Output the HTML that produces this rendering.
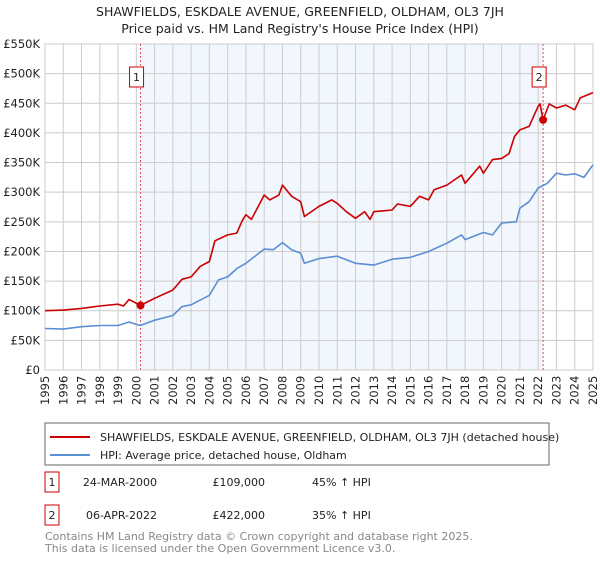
<!DOCTYPE html>
<html><head><meta charset="utf-8"><style>
body{margin:0;background:#fff;font-family:"Liberation Sans","DejaVu Sans",sans-serif;}
svg text{font-family:"DejaVu Sans","Liberation Sans",sans-serif;}
</style></head><body>
<svg id="c" width="600" height="560" xmlns="http://www.w3.org/2000/svg">
<text x="300" y="16" text-anchor="middle" font-size="12.5" fill="#222">SHAWFIELDS, ESKDALE AVENUE, GREENFIELD, OLDHAM, OL3 7JH</text>
<text x="300" y="33" text-anchor="middle" font-size="12.5" fill="#222">Price paid vs. HM Land Registry's House Price Index (HPI)</text>
<g id="plot"></g>
<g>
<rect x="45" y="423" width="504" height="42" fill="#fff" stroke="#666"/>
<line x1="50" y1="437" x2="90" y2="437" stroke="#cc0000" stroke-width="2"/>
<text x="100" y="441" font-size="11" fill="#222">SHAWFIELDS, ESKDALE AVENUE, GREENFIELD, OLDHAM, OL3 7JH (detached house)</text>
<line x1="50" y1="455" x2="90" y2="455" stroke="#5b8fd4" stroke-width="2"/>
<text x="100" y="459" font-size="11" fill="#222">HPI: Average price, detached house, Oldham</text>
</g>
<g font-size="11" fill="#222">
<rect x="45" y="472" width="14" height="20" fill="#fff" stroke="#cc0000"/>
<text x="52" y="486" text-anchor="middle">1</text>
<text x="157" y="486" text-anchor="end">24-MAR-2000</text>
<text x="265" y="486" text-anchor="end">£109,000</text>
<text x="312" y="486">45% ↑ HPI</text>
<rect x="45" y="505" width="14" height="20" fill="#fff" stroke="#cc0000"/>
<text x="52" y="519" text-anchor="middle">2</text>
<text x="157" y="519" text-anchor="end">06-APR-2022</text>
<text x="265" y="519" text-anchor="end">£422,000</text>
<text x="312" y="519">35% ↑ HPI</text>
</g>
<text x="45" y="540" font-size="11" fill="#888">Contains HM Land Registry data © Crown copyright and database right 2025.</text>
<text x="45" y="552" font-size="11" fill="#888">This data is licensed under the Open Government Licence v3.0.</text>
</svg>
<script>
const yTicks=[0,50,100,150,200,250,300,350,400,450,500,550];
const yTickLabels=["£0","£50K","£100K","£150K","£200K","£250K","£300K","£350K","£400K","£450K","£500K","£550K"];
const years=[1995,1996,1997,1998,1999,2000,2001,2002,2003,2004,2005,2006,2007,2008,2009,2010,2011,2012,2013,2014,2015,2016,2017,2018,2019,2020,2021,2022,2023,2024,2025];
const hpiT=[1995,1996,1997,1998,1999,1999.6,2000.2,2001,2002,2002.5,2003,2004,2004.5,2005,2005.5,2006,2007,2007.5,2008,2008.5,2009,2009.2,2010,2011,2011.5,2012,2013,2014,2015,2016,2017,2017.8,2018,2019,2019.5,2020,2020.8,2021,2021.5,2022,2022.5,2023,2023.5,2024,2024.5,2025];
const hpiV=[70,69,73,75,75,81,75,84,92,107,110,126,152,157,171,180,204,203,215,203,197,180,188,192,186,180,177,187,190,200,214,228,220,232,228,248,250,273,284,307,315,332,329,331,325,346];
const priceT=[1995,1996,1997,1998,1999,1999.3,1999.6,2000.23,2001,2002,2002.5,2003,2003.5,2004,2004.3,2005,2005.5,2005.8,2006,2006.3,2007,2007.3,2007.8,2008,2008.5,2009,2009.2,2010,2010.7,2011,2011.5,2012,2012.5,2012.8,2013,2014,2014.3,2015,2015.5,2016,2016.3,2017,2017.8,2018,2018.8,2019,2019.5,2020,2020.4,2020.7,2021,2021.5,2022,2022.1,2022.27,2022.6,2023,2023.5,2024,2024.3,2025];
const priceV=[100,101,104,108,111,108,119,109,121,135,153,157,175,183,218,228,231,252,262,254,295,287,295,312,293,284,259,276,287,281,267,256,267,254,267,270,280,276,293,287,304,312,329,315,344,332,355,357,365,394,405,411,445,449,422,449,442,447,439,459,468];
const saleT=[2000.23,2022.27];
const saleV=[109,422];
const saleLabels=["1","2"];
const NS="http://www.w3.org/2000/svg";
const X0=45,X1=593,Y0=370,Y1=44;
const x=t=>X0+(t-1995)/30*(X1-X0);
const y=v=>Y0-v/550*(Y0-Y1);
const g=document.getElementById('plot');
function mk(tag,attrs,parent){const e=document.createElementNS(NS,tag);for(const k in attrs)e.setAttribute(k,attrs[k]);(parent||g).appendChild(e);return e;}
let r=mk('rect',{x:x(saleT[0]),y:Y1,width:x(saleT[1])-x(saleT[0]),height:Y0-Y1,fill:'#f2f6fd'});


yTicks.forEach((v,i)=>{
 let l=mk('line',{x1:X0,x2:X1,y1:y(v),y2:y(v),stroke:'#cccccc'});
 
 
 let t=mk('text',{x:X0-5,y:y(v)+4,'text-anchor':'end','font-size':'11.5',fill:'#222'});
 t.textContent=yTickLabels[i];
 
 
});
years.forEach(yr=>{
 let l=mk('line',{x1:x(yr),x2:x(yr),y1:Y1,y2:Y0,stroke:'#cccccc'});
 
 
 let t=mk('text',{transform:`translate(${x(yr)+4},${Y0+35}) rotate(-90)`,'font-size':'11.5',fill:'#222'});
 t.textContent=yr;
 
 
});
let bd=mk('rect',{x:X0,y:Y1,width:X1-X0,height:Y0-Y1,fill:'none',stroke:'#cccccc'});


saleT.forEach((t,i)=>{
 let l=mk('line',{x1:x(t),x2:x(t),y1:Y1,y2:Y0,stroke:'#e05050','stroke-dasharray':'2,2'});
 
 
});
function path(T,V,col,name){
 let d=T.map((t,i)=>(i?'L':'M')+x(t).toFixed(1)+','+y(V[i]).toFixed(1)).join('');
 let p=mk('path',{d:d,fill:'none',stroke:col,'stroke-width':1.6,'stroke-linejoin':'round'});
 
 
}
path(hpiT,hpiV,'#5b8fd4','hpi-line');
path(priceT,priceV,'#cc0000','property-line');
saleT.forEach((t,i)=>{
 let c=mk('circle',{cx:x(t),cy:y(saleV[i]),r:4,fill:'#cc0000'});
 
 
 let b=mk('rect',{x:x(t)-11,y:67,width:14,height:20,fill:'#fff',stroke:'#cc0000'});
 
 
 let tx=mk('text',{x:x(t)-4,y:81,'text-anchor':'middle','font-size':'11',fill:'#222'});
 tx.textContent=saleLabels[i];
 
 
});
</script>
</body></html>
